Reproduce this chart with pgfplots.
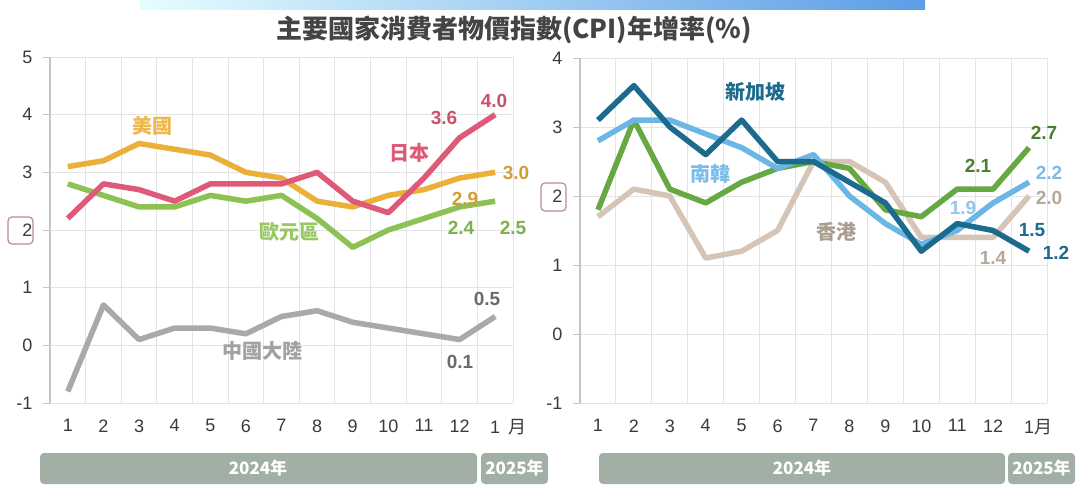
\documentclass[border=0pt]{standalone}
\usepackage{fontspec}
\setmainfont{Liberation Sans}
\newfontfamily\cjk{Noto Sans CJK TC}
\usepackage{pgfplots}
\usepackage{pgfplotstable}
\pgfplotsset{compat=1.18}

\definecolor{cUS}{HTML}{EBB03A}
\definecolor{cJP}{HTML}{DF5A78}
\definecolor{cEU}{HTML}{8CC254}
\definecolor{cCN}{HTML}{A9A9A9}
\definecolor{cSG}{HTML}{1D6B8C}
\definecolor{cKR}{HTML}{6CB6E6}
\definecolor{cTW}{HTML}{66A842}
\definecolor{cHK}{HTML}{D4C5B7}
\definecolor{gridc}{HTML}{E4E4E4}
\definecolor{axc}{HTML}{C4C4C4}
\definecolor{tickc}{HTML}{3A3A3A}
\definecolor{barc}{HTML}{A2AFA5}
\definecolor{boxc}{HTML}{B98A9A}

\pgfplotstableread{
m  US  JP  EU  CN
1  3.1 2.2 2.8 -0.8
2  3.2 2.8 2.6 0.7
3  3.5 2.7 2.4 0.1
4  3.4 2.5 2.4 0.3
5  3.3 2.8 2.6 0.3
6  3.0 2.8 2.5 0.2
7  2.9 2.8 2.6 0.5
8  2.5 3.0 2.2 0.6
9  2.4 2.5 1.7 0.4
10 2.6 2.3 2.0 0.3
11 2.7 2.9 2.2 0.2
12 2.9 3.6 2.4 0.1
13 3.0 4.0 2.5 0.5
}\lefttab

\pgfplotstableread{
m  SG  KR  TW  HK
1  3.1 2.8 1.8 1.7
2  3.6 3.1 3.1 2.1
3  3.0 3.1 2.1 2.0
4  2.6 2.9 1.9 1.1
5  3.1 2.7 2.2 1.2
6  2.5 2.4 2.4 1.5
7  2.5 2.6 2.5 2.5
8  2.2 2.0 2.4 2.5
9  1.9 1.6 1.8 2.2
10 1.2 1.3 1.7 1.4
11 1.6 1.5 2.1 1.4
12 1.5 1.9 2.1 1.4
13 1.2 2.2 2.7 2.0
}\righttab

\pgfplotsset{myax/.style={
  scale only axis,
  xmin=0.5, xmax=13.5,
  xtick={1,...,13},
  minor xtick={0.5,1.5,...,13.5},
  xminorgrids, ymajorgrids,
  minor grid style={draw=gridc, line width=1pt},
  major grid style={draw=gridc, line width=1pt},
  axis x line*=bottom, axis y line*=left,
  x axis line style={draw=gridc, line width=1pt},
  y axis line style={draw=axc, line width=1.2pt},
  tick align=outside,
  major tick length=7pt, minor tick length=0pt,
  xtick style={draw=none},
  ytick style={draw=axc, line width=1pt},
  tick label style={font=\fontsize{18}{18}\selectfont, text=tickc},
  yticklabel style={anchor=east, xshift=-7pt},
  xticklabel style={yshift=-6pt},
  every axis plot/.append style={line width=5.5pt, line join=round, no markers},
  clip=false,
}}

\newcommand{\lab}[4]{\node[text=#1, font=\fontsize{19}{19}\selectfont\bfseries] at (#2pt,-#3pt) {#4};}
\newcommand{\nam}[4]{\node[text=#1, font=\fontsize{20}{20}\selectfont\cjk\bfseries] at (#2pt,-#3pt) {#4};}

\begin{document}
\begin{tikzpicture}
\path[use as bounding box, fill=white] (0pt,0pt) rectangle (1080pt,-492pt);

% top gradient bar
\shade[left color=blue!8!cyan!10!white, right color={rgb,255:red,92;green,157;blue,230}] (140pt,0pt) rectangle (925pt,-10pt);

% title
\node[text={rgb,255:red,68;green,68;blue,68}, font=\fontsize{26}{26}\selectfont\cjk\bfseries] at (514pt,-30pt) {主要國家消費者物價指數(CPI)年增率(\%)};

% left axis
\begin{axis}[myax, at={(50pt,-403pt)}, anchor=south west,
  width=463pt, height=346pt,
  ymin=-1, ymax=5, ytick={-1,0,1,2,3,4,5},
  yticklabels={-1,0,1,2,3,4,5},
  xticklabels={1,2,3,4,5,6,7,8,9,10,11,12,{1\rlap{\hspace{0.45em}\cjk 月}}},
]
\addplot[cCN] table[x=m, y=CN] {\lefttab};
\addplot[cEU] table[x=m, y=EU] {\lefttab};
\addplot[cUS] table[x=m, y=US] {\lefttab};
\addplot[cJP] table[x=m, y=JP] {\lefttab};
\end{axis}

% right axis
\begin{axis}[myax, at={(580pt,-403pt)}, anchor=south west,
  width=467pt, height=345pt,
  ymin=-1, ymax=4, ytick={-1,0,1,2,3,4},
  yticklabels={-1,0,1,2,3,4},
  xticklabels={1,2,3,4,5,6,7,8,9,10,11,12,{1\rlap{\cjk 月}}},
]
\addplot[cHK] table[x=m, y=HK] {\righttab};
\addplot[cTW] table[x=m, y=TW] {\righttab};
\addplot[cKR] table[x=m, y=KR] {\righttab};
\addplot[cSG] table[x=m, y=SG] {\righttab};
\end{axis}

% boxes around "2"
\draw[boxc, line width=1.2pt, rounded corners=4pt] (8pt,-217pt) rectangle (33pt,-244pt);
\draw[boxc, line width=1.2pt, rounded corners=4pt] (541pt,-183pt) rectangle (566pt,-211pt);

% left labels
\nam{cUS!90!white}{152}{126}{美國}
\nam{cJP}{409}{153}{日本}
\nam{cEU!90!white}{289}{232}{歐元區}
\nam{cCN!95!black}{262}{351}{中國大陸}
\lab{cJP!90!black}{444}{118}{3.6}
\lab{cJP!90!black}{494}{101}{4.0}
\lab{cUS!90!black}{516}{173}{3.0}
\lab{cUS!90!black}{465}{199}{2.9}
\lab{cEU!90!black}{461}{228}{2.4}
\lab{cEU!90!black}{513}{228}{2.5}
\lab{black!58}{487}{299}{0.5}
\lab{black!58}{460}{362}{0.1}

% right labels
\nam{cSG}{755}{92}{新加坡}
\nam{cKR!90!white}{710}{174}{南韓}
\nam{cHK!80!black}{836}{232}{香港}
\lab{cTW!75!black}{1044}{133}{2.7}
\lab{cTW!75!black}{978}{166}{2.1}
\lab{cKR!90!white}{1049}{173}{2.2}
\lab{cHK!85!black}{1049}{198}{2.0}
\lab{cKR!75!white}{963}{208}{1.9}
\lab{cSG}{1032}{230}{1.5}
\lab{cSG}{1056}{253}{1.2}
\lab{cHK!85!black}{993}{258}{1.4}

% year bars
\fill[barc, rounded corners=4pt] (40pt,-453pt) rectangle (477pt,-484pt);
\fill[barc, rounded corners=4pt] (481pt,-453pt) rectangle (548pt,-484pt);
\fill[barc, rounded corners=4pt] (599pt,-453pt) rectangle (1005pt,-484pt);
\fill[barc, rounded corners=4pt] (1008pt,-453pt) rectangle (1075pt,-484pt);
\node[white, font=\fontsize{17}{17}\selectfont\cjk\bfseries] at (258pt,-468.5pt) {2024年};
\node[white, font=\fontsize{17}{17}\selectfont\cjk\bfseries] at (514.5pt,-468.5pt) {2025年};
\node[white, font=\fontsize{17}{17}\selectfont\cjk\bfseries] at (802pt,-468.5pt) {2024年};
\node[white, font=\fontsize{17}{17}\selectfont\cjk\bfseries] at (1041.5pt,-468.5pt) {2025年};
\end{tikzpicture}
\end{document}
